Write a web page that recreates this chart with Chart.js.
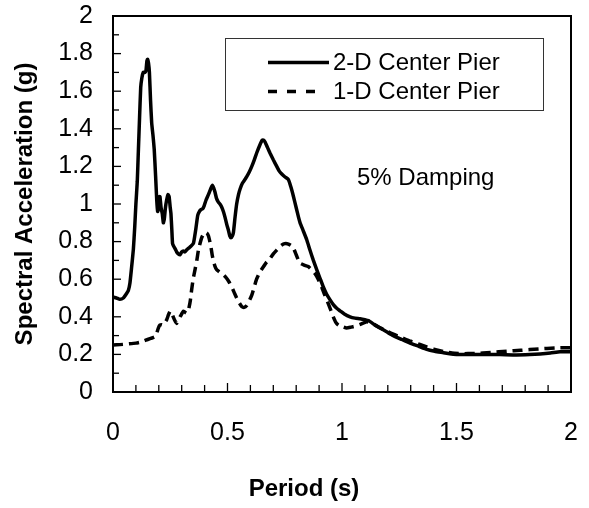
<!DOCTYPE html>
<html><head><meta charset="utf-8">
<script src="https://cdn.jsdelivr.net/npm/chart.js@4.4.1/dist/chart.umd.min.js"></script>
<style>html,body{margin:0;padding:0;background:#fff}#wrap{width:589px;height:508px;position:relative}</style>
</head><body><div id="wrap"><canvas id="c" width="589" height="508"></canvas></div>
<script>
// ---- data ----
const period2D = [0.000,0.015,0.030,0.045,0.060,0.067,0.074,0.081,0.089,0.095,0.100,0.106,0.111,0.116,0.121,0.126,0.132,0.140,0.144,0.148,0.151,0.155,0.159,0.164,0.169,0.175,0.180,0.186,0.191,0.195,0.198,0.202,0.205,0.210,0.215,0.220,0.224,0.229,0.234,0.240,0.245,0.250,0.253,0.257,0.260,0.265,0.272,0.278,0.285,0.293,0.300,0.307,0.314,0.321,0.330,0.340,0.351,0.357,0.362,0.370,0.377,0.384,0.392,0.398,0.406,0.413,0.420,0.428,0.434,0.440,0.445,0.452,0.460,0.467,0.474,0.482,0.489,0.497,0.504,0.510,0.515,0.521,0.526,0.533,0.540,0.548,0.555,0.565,0.576,0.584,0.595,0.606,0.617,0.627,0.640,0.652,0.658,0.664,0.675,0.686,0.700,0.715,0.726,0.737,0.750,0.766,0.777,0.788,0.800,0.810,0.817,0.830,0.846,0.860,0.875,0.890,0.904,0.918,0.933,0.948,0.962,0.977,0.991,1.010,1.035,1.057,1.079,1.100,1.115,1.140,1.166,1.195,1.224,1.260,1.297,1.335,1.370,1.405,1.443,1.470,1.500,1.560,1.617,1.690,1.762,1.820,1.865,1.910,1.952,2.000];
const sa2D = [0.505,0.500,0.493,0.500,0.525,0.54,0.58,0.66,0.76,0.88,1.00,1.12,1.29,1.46,1.62,1.67,1.70,1.70,1.71,1.76,1.77,1.75,1.70,1.55,1.43,1.36,1.29,1.15,1.02,0.96,0.97,1.04,1.04,0.98,0.95,0.90,0.92,0.98,1.02,1.05,1.04,0.98,0.95,0.86,0.79,0.775,0.76,0.745,0.735,0.73,0.745,0.75,0.745,0.755,0.765,0.775,0.79,0.83,0.87,0.94,0.96,0.97,0.975,0.99,1.02,1.04,1.06,1.085,1.10,1.085,1.065,1.03,1.01,1.00,0.985,0.96,0.93,0.89,0.86,0.83,0.82,0.83,0.85,0.93,1.00,1.05,1.08,1.11,1.13,1.145,1.17,1.20,1.235,1.27,1.31,1.34,1.34,1.33,1.30,1.27,1.235,1.20,1.175,1.16,1.145,1.13,1.09,1.04,0.98,0.93,0.90,0.86,0.81,0.755,0.70,0.65,0.605,0.56,0.52,0.49,0.465,0.445,0.432,0.415,0.40,0.393,0.39,0.385,0.38,0.36,0.34,0.32,0.30,0.28,0.26,0.243,0.227,0.217,0.209,0.203,0.200,0.200,0.200,0.199,0.197,0.199,0.202,0.207,0.214,0.214];
const period1D = [0.000,0.030,0.060,0.100,0.120,0.146,0.165,0.183,0.190,0.198,0.205,0.213,0.220,0.227,0.234,0.242,0.249,0.256,0.263,0.270,0.278,0.285,0.293,0.300,0.307,0.314,0.321,0.328,0.333,0.338,0.343,0.350,0.358,0.366,0.373,0.380,0.387,0.395,0.402,0.410,0.417,0.423,0.428,0.433,0.438,0.445,0.453,0.463,0.474,0.485,0.496,0.507,0.518,0.529,0.540,0.551,0.562,0.573,0.584,0.595,0.606,0.617,0.627,0.640,0.656,0.670,0.686,0.700,0.715,0.730,0.744,0.755,0.766,0.777,0.788,0.800,0.810,0.817,0.835,0.853,0.868,0.882,0.896,0.911,0.925,0.940,0.951,0.962,0.973,0.984,1.000,1.020,1.040,1.057,1.080,1.108,1.130,1.160,1.195,1.230,1.260,1.300,1.340,1.370,1.400,1.443,1.480,1.520,1.580,1.650,1.720,1.780,1.860,1.930,2.000];
const sa1D = [0.25,0.252,0.255,0.26,0.265,0.277,0.285,0.294,0.31,0.34,0.356,0.358,0.356,0.37,0.383,0.41,0.43,0.42,0.40,0.38,0.365,0.38,0.40,0.415,0.43,0.425,0.42,0.43,0.455,0.49,0.54,0.60,0.65,0.70,0.755,0.79,0.82,0.84,0.85,0.845,0.83,0.80,0.77,0.73,0.70,0.67,0.65,0.64,0.63,0.62,0.605,0.585,0.56,0.53,0.50,0.475,0.455,0.45,0.46,0.485,0.515,0.56,0.60,0.635,0.665,0.69,0.71,0.735,0.755,0.775,0.787,0.79,0.787,0.78,0.765,0.73,0.70,0.685,0.675,0.667,0.65,0.63,0.60,0.56,0.515,0.47,0.435,0.40,0.37,0.356,0.348,0.34,0.345,0.35,0.36,0.374,0.365,0.345,0.325,0.305,0.29,0.27,0.253,0.24,0.228,0.215,0.207,0.204,0.205,0.21,0.217,0.222,0.229,0.234,0.236];
const seriesLabels = ['2-D Center Pier', '1-D Center Pier'];
const xTickValues = [0, 0.5, 1, 1.5, 2];
const xTickLabels = ['0', '0.5', '1', '1.5', '2'];
const yTickValues = [0, 0.2, 0.4, 0.6, 0.8, 1, 1.2, 1.4, 1.6, 1.8, 2];
const yTickLabels = ['0', '0.2', '0.4', '0.6', '0.8', '1', '1.2', '1.4', '1.6', '1.8', '2'];
const xTitle = 'Period (s)';
const yTitle = 'Spectral Acceleration (g)';
const noteText = '5% Damping';

// ---- styles ----
const FONT = '"Liberation Sans", Arial, Helvetica, sans-serif';
const minorStep = 0.1;
const DASH = [10, 6];

const toPts = (xs, ys) => xs.map((x, i) => ({x: x, y: ys[i]}));
const zeroPad = (s) => { s.paddingTop = 0; s.paddingBottom = 0; s.paddingLeft = 0; s.paddingRight = 0; };

const framePlugin = {
  id: 'frame',
  afterDatasetsDraw(chart) {
    const {ctx, chartArea: a, scales: {x, y}} = chart;
    ctx.save();
    ctx.strokeStyle = '#000';
    ctx.lineWidth = 2;
    ctx.strokeRect(a.left, a.top, a.right - a.left, a.bottom - a.top);
    ctx.lineWidth = 1.3;
    const n = Math.round((x.max - x.min) / minorStep);
    for (let i = 0; i <= n; i++) {
      const v = x.min + i * minorStep;
      const px = x.getPixelForValue(v);
      const len = (i % 5 === 0) ? 9 : 7;
      ctx.beginPath(); ctx.moveTo(px, a.bottom); ctx.lineTo(px, a.bottom - len); ctx.stroke();
    }
    const m = Math.round((y.max - y.min) / minorStep);
    for (let i = 0; i <= m; i++) {
      const v = y.min + i * minorStep;
      const py = y.getPixelForValue(v);
      const len = (i % 2 === 0) ? 8 : 6;
      ctx.beginPath(); ctx.moveTo(a.left, py); ctx.lineTo(a.left + len, py); ctx.stroke();
    }
    // legend box
    const lx = a.left + 112, ly = a.top + 22, lw = 318, lh = 72;
    ctx.fillStyle = '#fff';
    ctx.fillRect(lx, ly, lw, lh);
    ctx.strokeStyle = '#333';
    ctx.lineWidth = 1;
    ctx.strokeRect(lx + 0.5, ly + 0.5, lw, lh);
    ctx.font = '24px ' + FONT;
    ctx.fillStyle = '#000';
    ctx.textBaseline = 'middle';
    ctx.textAlign = 'left';
    const rows = [ly + 24.5, ly + 53.5];
    chart.data.datasets.forEach((ds, i) => {
      ctx.strokeStyle = '#000';
      ctx.lineWidth = 3.5;
      ctx.setLineDash(i === 1 ? [9, 10] : []);
      ctx.beginPath();
      ctx.moveTo(lx + 43, rows[i]);
      ctx.lineTo(lx + (i === 1 ? 93 : 104), rows[i]);
      ctx.stroke();
      ctx.setLineDash([]);
      ctx.fillText(ds.label, lx + 108, rows[i] + 1);
    });
    ctx.textBaseline = 'alphabetic';
    ctx.fillText(noteText, a.left + 244, a.top + 169);
    ctx.restore();
  }
};

new Chart(document.getElementById('c'), {
  type: 'line',
  data: {
    datasets: [
      {label: seriesLabels[0], data: toPts(period2D, sa2D), borderColor: '#000', borderWidth: 3.5, pointRadius: 0, tension: 0.15, fill: false},
      {label: seriesLabels[1], data: toPts(period1D, sa1D), borderColor: '#000', borderWidth: 3.5, borderDash: DASH, pointRadius: 0, tension: 0.15, fill: false}
    ]
  },
  options: {
    responsive: false,
    animation: false,
    devicePixelRatio: 1,
    layout: {padding: {left: 37, right: 18, top: 16, bottom: 0}},
    plugins: {
      legend: {display: false},
      tooltip: {enabled: false},
      title: {
        display: true, text: xTitle, position: 'bottom', color: '#000',
        font: {family: FONT, size: 24, weight: 'bold', lineHeight: 1.2},
        padding: {top: 0, bottom: 4}
      }
    },
    scales: {
      x: {
        type: 'linear', min: 0, max: 2,
        grid: {display: false, drawTicks: false},
        border: {display: false},
        afterBuildTicks: (s) => { s.ticks = xTickValues.map(v => ({value: v})); },
        afterFit: (s) => { s.height = 83.2; zeroPad(s); },
        ticks: {
          color: '#000', padding: 26, maxRotation: 0, autoSkip: false,
          font: {family: FONT, size: 25, lineHeight: 1.2},
          callback: (v) => xTickLabels[xTickValues.indexOf(v)]
        }
      },
      y: {
        type: 'linear', min: 0, max: 2,
        grid: {display: false, drawTicks: false},
        border: {display: false},
        afterBuildTicks: (s) => { s.ticks = yTickValues.map(v => ({value: v})); },
        afterFit: (s) => { s.width = 76; zeroPad(s); },
        title: {
          display: true, text: yTitle, color: '#000',
          font: {family: FONT, size: 24, weight: 'bold', lineHeight: 1.2},
          padding: {top: -26.4, bottom: 0}
        },
        ticks: {
          color: '#000', padding: 20, autoSkip: false,
          font: {family: FONT, size: 25, lineHeight: 1.2},
          callback: (v) => yTickLabels[yTickValues.indexOf(v)]
        }
      }
    }
  },
  plugins: [framePlugin]
});
</script>
</body></html>
